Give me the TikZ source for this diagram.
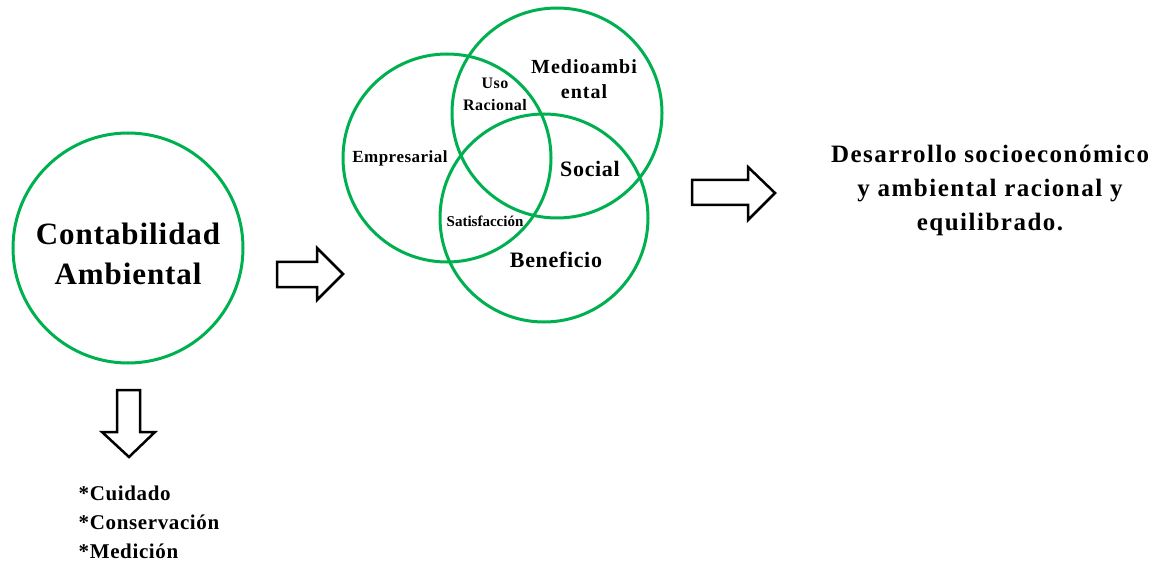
\documentclass[tikz,border=0pt]{standalone}
\usepackage{fontspec}
\setmainfont{Liberation Serif}
\definecolor{venngreen}{RGB}{0,176,80}
\tikzset{
  ring/.style={draw=venngreen, line width=3pt, circle, inner sep=0pt},
  blockarrow/.style={draw=black, line width=2.5pt, fill=white, line join=miter},
  lbl/.style={align=center, inner sep=0pt},
}
\begin{document}
\begin{tikzpicture}[x=1pt,y=-1pt]
\useasboundingbox (0,0) rectangle (1161,561);

% circulo principal
\node[ring, minimum size=230pt] (conta) at (128,248) {};
\node[lbl, font=\fontsize{31}{40}\selectfont\bfseries\addfontfeature{LetterSpace=3}] (contatxt) at (128,254) {Contabilidad\\Ambiental};

% diagrama de venn
\node[ring, minimum size=208pt] (empresa) at (447,158) {};
\node[ring, minimum size=210pt] (medio) at (557,113) {};
\node[ring, minimum size=208pt] (benef) at (544,218) {};

\node[lbl, font=\fontsize{20}{25}\selectfont\bfseries\addfontfeature{LetterSpace=5}] (mediotxt) at (584,79) {Medioambi\\ental};
\node[lbl, font=\fontsize{16}{22}\selectfont\bfseries\addfontfeature{LetterSpace=3}] (usotxt) at (495,94) {Uso\\Racional};
\node[lbl, anchor=base, font=\fontsize{17}{20}\selectfont\bfseries\addfontfeature{LetterSpace=3}] (empresatxt) at (400,163) {Empresarial};
\node[lbl, anchor=base, font=\fontsize{22}{26}\selectfont\bfseries\addfontfeature{LetterSpace=3}] (socialtxt) at (590,177) {Social};
\node[lbl, anchor=base, font=\fontsize{15}{18}\selectfont\bfseries] (satistxt) at (485,227) {Satisfacción};
\node[lbl, anchor=base, font=\fontsize{22}{26}\selectfont\bfseries\addfontfeature{LetterSpace=3}] (beneftxt) at (556,268) {Beneficio};

% resultado
\node[lbl, font=\fontsize{25}{34}\selectfont\bfseries\addfontfeature{LetterSpace=6}] (desarrollo) at (990,190) {Desarrollo socioeconómico\\y ambiental racional y\\equilibrado.};

% lista
\node[lbl, align=left, font=\fontsize{21}{29}\selectfont\bfseries\addfontfeature{LetterSpace=3}] (lista) at (149,522) {*Cuidado\\*Conservación\\*Medición};

% flechas
\draw[blockarrow] (277,262) -- (317,262) -- (317,248) -- (343,274) -- (317,300) -- (317,287) -- (277,287) -- cycle;
\draw[blockarrow] (692,180) -- (748,180) -- (748,167) -- (775,193) -- (748,220) -- (748,205) -- (692,205) -- cycle;
\draw[blockarrow] (117,390) -- (140,390) -- (140,432) -- (155,432) -- (129,457) -- (102,432) -- (117,432) -- cycle;

\end{tikzpicture}
\end{document}
